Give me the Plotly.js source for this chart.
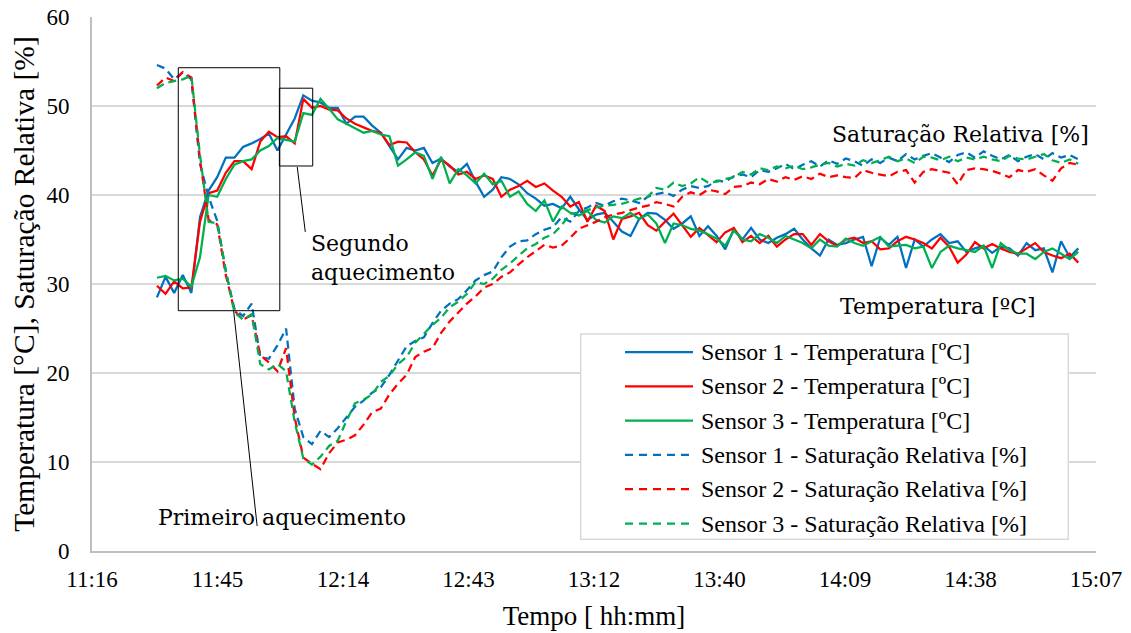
<!DOCTYPE html>
<html><head><meta charset="utf-8">
<script src="https://cdn.plot.ly/plotly-3.0.1.min.js"></script>
<style>html,body{margin:0;padding:0;background:#fff}#chart{width:1131px;height:633px}</style>
</head><body><div id="chart"></div>
<script>
// time grid (minutes since midnight)
const startMin = 691.7;
const stepMin = 1.976;

const tickVals = [676.8, 705.6, 734.4, 763.2, 792.0, 820.8, 849.6, 878.4, 907.2];
const tickText = ["11:16", "11:45", "12:14", "12:43", "13:12", "13:40", "14:09", "14:38", "15:07"];

const seriesNames = [
  "Sensor 1 - Temperatura [ºC]",
  "Sensor 2 - Temperatura [ºC]",
  "Sensor 3 - Temperatura [ºC]",
  "Sensor 1 - Saturação Relativa [%]",
  "Sensor 2 - Saturação Relativa [%]",
  "Sensor 3 - Saturação Relativa [%]"
];

const temp1 = [28.5, 30.8, 29.0, 31.0, 29.0, 37.5, 40.5, 42.0, 44.2, 44.2,
  45.4, 45.8, 46.3, 46.9, 45.0, 46.8, 48.6, 51.2, 50.6, 50.4,
  49.8, 49.8, 48.0, 48.8, 48.8, 47.8, 47.0, 45.5, 44.0, 45.3,
  45.0, 45.3, 43.6, 44.1, 43.2, 42.6, 43.5, 41.5, 39.8, 40.6,
  42.0, 41.8, 41.2, 40.2, 39.6, 38.8, 39.0, 38.5, 39.8, 38.4,
  37.2, 37.8, 38.0, 37.0, 35.9, 35.4, 37.3, 38.0, 37.9, 37.2,
  36.2, 36.8, 37.6, 35.4, 36.5, 35.4, 33.9, 36.2, 35.0, 36.3,
  35.0, 34.6, 35.2, 35.6, 36.2, 35.0, 34.0, 33.2, 35.0, 34.4,
  34.6, 35.0, 35.3, 32.0, 35.2, 34.4, 35.3, 31.8, 35.0, 34.2,
  35.0, 35.6, 34.6, 34.8, 33.6, 34.0, 34.3, 33.5, 34.2, 34.0,
  33.2, 34.6, 33.8, 34.0, 31.3, 34.8, 33.0, 34.0];

const temp2 = [29.8, 28.9, 30.3, 29.5, 29.6, 37.0, 40.2, 40.5, 42.5, 43.8,
  43.8, 42.9, 46.0, 47.1, 46.5, 46.6, 45.8, 50.8, 49.8, 50.0,
  49.6, 49.5, 48.6, 48.0, 47.6, 47.2, 47.0, 45.6, 46.0, 45.9,
  44.8, 44.0, 42.2, 44.0, 43.3, 42.3, 42.6, 41.8, 42.2, 41.8,
  39.8, 40.6, 41.0, 41.6, 40.9, 41.3, 40.5, 39.8, 38.7, 39.2,
  37.0, 38.8, 38.2, 35.0, 37.3, 37.6, 38.0, 36.6, 36.0, 37.0,
  37.9, 36.6, 35.3, 36.3, 35.5, 34.7, 35.8, 36.3, 34.7, 35.4,
  34.6, 35.4, 34.2, 35.0, 35.6, 35.6, 34.4, 35.6, 34.8, 34.3,
  35.0, 35.2, 34.6, 34.8, 33.9, 34.0, 34.8, 35.3, 35.0, 34.6,
  34.0, 35.2, 34.2, 32.4, 33.3, 34.7, 34.0, 34.5, 34.0, 33.6,
  33.4, 34.0, 34.6, 33.6, 33.2, 32.9, 33.4, 32.4];

const temp3 = [30.7, 30.9, 30.4, 30.6, 29.7, 33.0, 40.0, 39.8, 41.8, 43.4,
  43.8, 44.0, 45.0, 45.5, 46.4, 46.2, 46.0, 49.2, 49.0, 50.8,
  49.7, 48.5, 48.0, 47.5, 47.0, 47.2, 46.8, 46.6, 43.3, 44.0,
  44.8, 44.4, 41.8, 44.3, 41.3, 42.9, 42.2, 41.3, 42.4, 41.2,
  41.6, 39.8, 40.4, 39.0, 38.2, 39.4, 37.0, 38.7, 38.0, 37.7,
  38.2, 37.2, 36.9, 37.6, 37.4, 38.0, 37.3, 37.8, 36.8, 34.6,
  36.8, 36.6, 36.2, 36.0, 35.6, 35.1, 34.3, 36.0, 35.0, 34.8,
  35.6, 35.2, 34.6, 35.4, 35.0, 34.6, 34.0, 35.0, 34.3, 34.2,
  35.1, 34.6, 34.3, 34.8, 35.3, 34.2, 34.3, 34.4, 34.0, 34.2,
  31.8, 33.6, 34.3, 34.0, 33.8, 33.6, 34.3, 31.8, 34.6, 33.8,
  33.4, 33.4, 32.8, 33.6, 34.0, 33.4, 32.8, 33.6];

const sat1 = [54.6, 54.2, 53.0, 53.8, 53.0, 43.5, 39.8, 37.1, 31.4, 27.2,
  26.4, 27.8, 21.8, 21.6, 23.1, 25.0, 16.0, 12.8, 12.0, 13.5,
  12.8, 13.8, 15.0, 16.2, 16.9, 17.8, 18.4, 19.8, 21.4, 23.0,
  23.6, 24.0, 25.6, 27.0, 27.8, 28.3, 29.3, 30.4, 31.0, 31.4,
  33.0, 34.2, 34.8, 34.9, 35.6, 36.1, 36.4, 37.5, 37.0, 38.2,
  38.6, 39.1, 38.8, 39.3, 39.6, 39.4, 39.1, 39.8, 40.1, 40.3,
  39.9, 40.6, 41.0, 40.8, 41.0, 41.6, 41.5, 42.1, 42.3, 42.0,
  42.8, 42.6, 43.0, 43.5, 42.9, 43.4, 43.8, 43.2, 43.9, 43.5,
  44.1, 43.8, 43.3, 44.0, 43.6, 44.2, 43.8, 44.6, 44.0, 44.4,
  44.7, 44.2, 43.7, 44.5, 44.8, 44.2, 44.9, 44.4, 44.0, 44.5,
  43.8, 44.3, 44.6, 44.0, 44.7, 44.2, 44.5, 44.0];

const sat2 = [52.3, 53.2, 52.8, 53.8, 53.2, 44.0, 37.2, 36.7, 31.0, 27.0,
  26.0, 26.5, 22.0, 21.2, 20.2, 22.8, 15.0, 10.5, 9.8, 9.2,
  11.0, 12.2, 12.5, 13.0, 14.2, 15.6, 16.0, 17.6, 18.8, 19.8,
  21.8, 22.4, 22.8, 24.5, 25.8, 26.8, 27.8, 28.6, 29.6, 30.0,
  30.8, 31.3, 32.2, 33.0, 33.7, 34.4, 34.1, 34.3, 35.2, 36.2,
  36.6, 37.0, 37.5, 37.8, 38.0, 38.3, 38.6, 38.8, 39.2, 39.0,
  38.7, 39.8, 40.3, 40.0, 40.6, 40.4, 40.1, 40.9, 41.0, 41.4,
  41.2, 41.8, 41.5, 42.0, 41.7, 42.1, 41.8, 42.4, 42.0, 42.2,
  42.0, 41.9, 42.8, 42.5, 42.3, 42.1, 42.6, 42.8, 41.4, 42.6,
  42.9, 42.7, 42.5, 41.2, 42.8, 43.0, 42.9, 42.7, 42.4, 42.0,
  42.8, 42.6, 42.9, 42.2, 41.6, 43.0, 43.6, 43.4];

const sat3 = [52.0, 52.6, 52.8, 53.0, 53.4, 44.5, 37.0, 36.8, 31.5, 26.8,
  26.0, 26.6, 21.0, 20.4, 21.0, 20.2, 14.5, 10.4, 9.7, 10.6,
  11.8, 12.4, 14.6, 16.6, 17.0, 17.6, 19.0, 19.7, 21.0, 21.8,
  23.4, 24.4, 25.4, 26.2, 27.4, 28.0, 28.9, 30.2, 30.0, 30.6,
  31.6, 32.3, 33.2, 34.0, 34.5, 35.2, 35.6, 36.6, 37.9, 38.0,
  38.3, 38.6, 38.8, 38.9, 39.0, 39.3, 39.6, 39.8, 40.8, 40.6,
  41.4, 41.0, 41.3, 42.0, 41.4, 41.5, 41.8, 42.0, 42.6, 42.3,
  43.0, 42.8, 43.2, 43.0, 43.3, 42.9, 43.1, 43.4, 43.6, 43.2,
  43.5, 43.3, 43.9, 43.6, 43.9, 44.3, 43.8, 44.1, 43.6, 44.3,
  44.2, 43.9, 44.3, 43.8, 44.2, 44.0, 44.3, 44.0, 43.8, 44.4,
  44.1, 44.0, 44.3, 44.6, 43.9, 43.6, 44.0, 43.5];

const times = temp1.map((_, i) => startMin + i * stepMin);

const colors = ["#0070C0", "#FF0000", "#00B050", "#0070C0", "#FF0000", "#00B050"];
const dashes = ["solid", "solid", "solid", "8px,5px", "8px,5px", "8px,5px"];
const allSeries = [temp1, temp2, temp3, sat1, sat2, sat3];

const traces = allSeries.map((ys, k) => ({
  type: "scatter", mode: "lines", x: times, y: ys, name: seriesNames[k],
  line: {color: colors[k], width: 2.25, dash: dashes[k], simplify: false},
  showlegend: false, hoverinfo: "skip"
}));

// layout helpers (pixel -> paper)
const L = 92, T = 17, W = 1004, H = 534;
const px = x => (x - L) / W;
const py = y => (T + H - y) / H;

const serif = "Liberation Serif, Times New Roman, serif";
const cambria = "DejaVu Serif, serif";

const shapes = [
  {type: "rect", xref: "x", yref: "y", x0: 696.6, x1: 719.9, y0: 27.0, y1: 54.3,
   line: {color: "#000", width: 1}, fillcolor: "rgba(0,0,0,0)", layer: "above"},
  {type: "rect", xref: "x", yref: "y", x0: 719.8, x1: 727.45, y0: 43.26, y1: 52.0,
   line: {color: "#000", width: 1}, fillcolor: "rgba(0,0,0,0)", layer: "above"},
  {type: "line", xref: "x", yref: "y", x0: 723.9, y0: 43.15, x1: 725.75, y1: 35.85,
   line: {color: "#000", width: 1}, layer: "above"},
  {type: "line", xref: "x", yref: "y", x0: 709.3, y0: 27.0, x1: 714.7, y1: 2.8,
   line: {color: "#000", width: 1}, layer: "above"},
  {type: "rect", xref: "paper", yref: "paper", x0: px(580.7), x1: px(1068.3), y0: py(539.3), y1: py(334),
   line: {color: "#d9d9d9", width: 1.5}, fillcolor: "#ffffff", layer: "above"}
];

const legendRowsY = [352, 386.3, 420.6, 454.9, 489.2, 523.5];
const annotations = [];
seriesNames.forEach((nm, k) => {
  shapes.push({type: "line", xref: "paper", yref: "paper", x0: px(625), x1: px(693),
    y0: py(legendRowsY[k]), y1: py(legendRowsY[k]),
    line: {color: colors[k], width: 2.25, dash: dashes[k] === "solid" ? "solid" : "8px,6px"}, layer: "above"});
  annotations.push({xref: "paper", yref: "paper", x: px(699), y: py(legendRowsY[k]),
    xanchor: "left", yanchor: "middle", showarrow: false, text: nm,
    font: {family: serif, size: 24, color: "#000"}});
});

annotations.push(
  {xref: "x", yref: "y", x: 691.5, y: 3.8, xanchor: "left", yanchor: "middle", showarrow: false,
   text: "Primeiro aquecimento", font: {family: cambria, size: 22, color: "#000"}},
  {xref: "x", yref: "y", x: 726.5, y: 32.9, xanchor: "left", yanchor: "middle", showarrow: false, align: "left",
   text: "Segundo<br>aquecimento", font: {family: cambria, size: 22, color: "#000"}},
  {xref: "x", yref: "y", x: 846.2, y: 46.85, xanchor: "left", yanchor: "middle", showarrow: false,
   text: "Saturação Relativa [%]", font: {family: cambria, size: 22, color: "#000"}},
  {xref: "x", yref: "y", x: 848.1, y: 27.5, xanchor: "left", yanchor: "middle", showarrow: false,
   text: "Temperatura [ºC]", font: {family: cambria, size: 22, color: "#000"}}
);

const layout = {
  width: 1131, height: 633,
  margin: {l: L, r: 1131 - L - W, t: T, b: 633 - T - H, pad: 0},
  paper_bgcolor: "#fff", plot_bgcolor: "#fff",
  showlegend: false,
  xaxis: {
    range: [676.8, 907.2], tickmode: "array", tickvals: tickVals, ticktext: tickText,
    showgrid: false, zeroline: false, showline: true, linecolor: "#bfbfbf", linewidth: 2,
    ticks: "", ticklabelstandoff: 6,
    tickfont: {family: serif, size: 23, color: "#000"},
    title: {text: "Tempo [ hh:mm]", font: {family: serif, size: 27, color: "#000"}, standoff: 16},
    automargin: false
  },
  yaxis: {
    range: [0, 60], tickmode: "array", tickvals: [0, 10, 20, 30, 40, 50, 60],
    showgrid: true, gridcolor: "#d9d9d9", gridwidth: 1.5,
    zeroline: false, showline: true, linecolor: "#bfbfbf", linewidth: 2,
    ticks: "", ticklabelstandoff: 16,
    tickfont: {family: serif, size: 23, color: "#000"},
    title: {text: "Temperatura [°C], Saturação Relativa [%]", font: {family: serif, size: 29.5, color: "#000"}, standoff: 3},
    automargin: false
  },
  shapes: shapes,
  annotations: annotations
};

Plotly.newPlot("chart", traces, layout, {staticPlot: true, displayModeBar: false});
</script>
</body></html>
